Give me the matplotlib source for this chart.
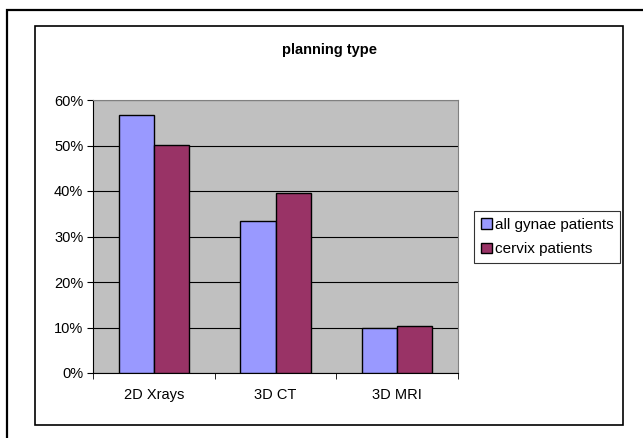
import numpy as np
import matplotlib as mpl
import matplotlib.pyplot as plt
from matplotlib.patches import Rectangle
mpl.use('Agg')

plt.rcParams['font.family'] = ['Liberation Sans', 'DejaVu Sans']

categories = ['2D Xrays', '3D CT', '3D MRI']
all_gynae = [0.567, 0.333, 0.100]
cervix = [0.502, 0.395, 0.103]
series_names = ['all gynae patients', 'cervix patients']
y_ticks = [0.0, 0.1, 0.2, 0.3, 0.4, 0.5, 0.6]

W, H = 643, 438
fig = plt.figure(figsize=(W / 100, H / 100), dpi=100)


def fx(px):
    return px / W


def fy(py):
    return 1 - py / H


# outer frame and chart area frame
fig.patches.append(Rectangle((fx(7), fy(445)), fx(660) - fx(7), fy(10) - fy(445),
                             transform=fig.transFigure, fill=False, edgecolor='black', linewidth=1.6))
fig.patches.append(Rectangle((fx(35), fy(425)), fx(623) - fx(35), fy(26) - fy(425),
                             transform=fig.transFigure, fill=False, edgecolor='black', linewidth=1.2))

ax = fig.add_axes([fx(93), fy(373), fx(458) - fx(93), fy(100) - fy(373)])
ax.set_facecolor('#C0C0C0')

x = np.arange(len(categories))
width = 0.29
ax.bar(x - width / 2, all_gynae, width, color='#9999FF', edgecolor='black', linewidth=1.0,
       label=series_names[0], zorder=3)
ax.bar(x + width / 2, cervix, width, color='#993366', edgecolor='black', linewidth=1.0,
       label=series_names[1], zorder=3)

ax.set_xlim(-0.5, len(categories) - 0.5)
ax.set_ylim(0, 0.6)
ax.set_yticks(y_ticks)
ax.set_yticklabels(['%d%%' % round(v * 100) for v in y_ticks], fontsize=10.5)
ax.yaxis.grid(True, color='black', linewidth=0.8, zorder=0)
ax.set_axisbelow(True)

# category labels centred, ticks on the boundaries
ax.set_xticks(x)
ax.set_xticklabels(categories, fontsize=10.5)
ax.tick_params(axis='x', length=0, pad=11)
ax.set_xticks(np.arange(-0.5, len(categories)), minor=True)
ax.tick_params(axis='x', which='minor', length=4, direction='out', color='black')
ax.tick_params(axis='y', length=4, direction='out', color='black', pad=3)

for side in ['top', 'right']:
    ax.spines[side].set_color('#808080')
for side in ['left', 'bottom']:
    ax.spines[side].set_color('black')

fig.text(fx(329), fy(50), 'planning type', ha='center', va='center', fontsize=10.5, fontweight='bold')

leg = fig.legend(loc='center left', bbox_to_anchor=(fx(474), fy(237)), fontsize=11,
                 frameon=True, fancybox=False, edgecolor='black', handlelength=0.7,
                 handleheight=0.7, handletextpad=0.2, borderpad=0.45, labelspacing=0.7,
                 borderaxespad=0)
leg.get_frame().set_linewidth(0.8)

plt.savefig('out.png', dpi=100)
plt.close()
